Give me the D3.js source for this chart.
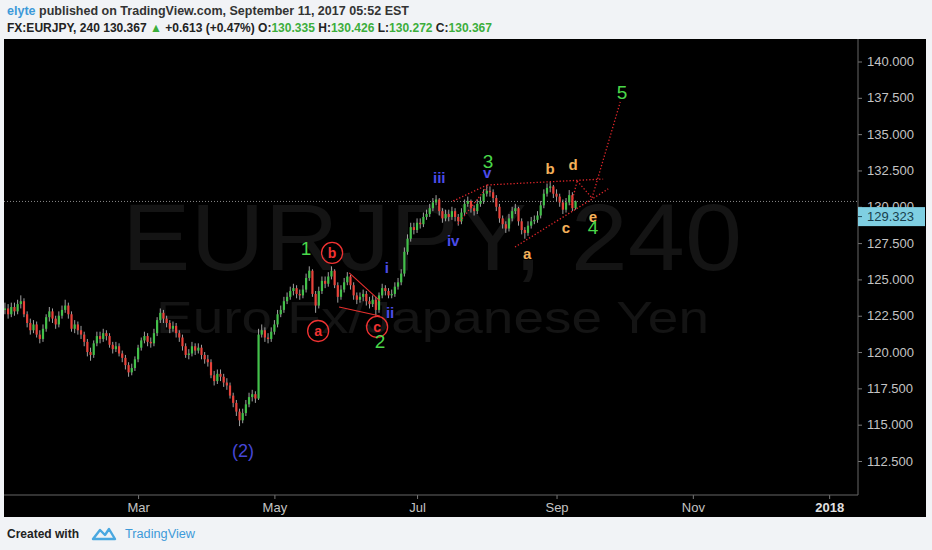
<!DOCTYPE html>
<html>
<head>
<meta charset="utf-8">
<script src="https://cdn.jsdelivr.net/npm/d3@7"></script>
<style>
  body { margin: 0; background: #f1f3f6; }
  svg { display: block; }
</style>
</head>
<body>
<div id="chart"></div>
<script>
// Daily EURJPY bars (trading days from Jan 2 2017), open = previous close
var firstOpen = 122.9;
var closes = [
  123.0,122.6,123.1,122.8,123.3,123.5,122.6,122.0,121.5,121.9,
  121.2,120.9,121.6,122.4,122.8,122.3,121.9,122.5,122.9,123.2,
  122.6,121.6,121.9,121.5,121.2,120.7,120.0,119.8,120.6,121.1,
  120.9,121.3,121.1,120.5,120.2,120.4,119.9,119.6,119.1,118.6,
  118.9,119.5,120.3,120.8,121.1,120.7,120.6,121.3,122.2,122.7,
  122.3,122.0,121.6,121.8,121.3,121.0,120.4,119.8,119.9,120.4,
  120.1,120.3,119.8,119.5,119.3,118.4,118.0,118.5,118.3,117.9,
  117.7,117.0,116.5,115.9,115.3,115.8,116.4,116.9,117.1,116.8,
  121.2,121.5,121.0,120.9,121.4,121.9,122.6,122.9,123.5,123.8,
  124.2,124.4,124.0,123.9,124.3,125.1,125.6,124.0,123.2,124.2,
  124.9,124.7,125.2,125.6,124.6,123.8,124.3,124.8,125.2,124.6,
  123.9,123.6,123.8,124.0,123.5,123.3,123.6,122.9,123.9,124.4,
  124.2,123.9,124.0,124.5,124.8,125.4,126.9,127.8,128.6,128.4,
  128.9,128.8,129.3,129.5,129.9,130.3,130.5,129.7,129.2,129.5,
  129.3,129.7,129.3,129.0,129.6,130.2,130.4,129.9,129.7,130.2,
  130.4,130.9,131.1,131.0,130.6,130.0,129.2,128.8,128.5,129.2,
  129.7,129.9,129.0,128.4,128.2,128.7,129.0,129.1,129.4,130.1,
  130.9,131.3,131.4,130.9,130.7,130.3,129.8,130.3,130.8,129.9,
  130.367
];
var highs = [
  123.4,123.3,123.4,123.4,123.6,123.9,123.7,122.8,122.3,122.2,
  122.1,121.5,121.9,122.6,123.1,123.0,122.5,122.8,123.2,123.6,
  123.4,122.8,122.2,122.1,121.8,121.4,120.9,120.3,120.8,121.4,
  121.4,121.6,121.5,121.3,120.7,120.7,120.6,120.1,119.8,119.3,
  119.2,119.7,120.5,121.0,121.4,121.3,121.0,121.6,122.4,123.0,
  122.9,122.5,122.2,122.1,122.0,121.5,121.2,120.6,120.2,120.7,
  120.6,120.6,120.5,120.0,119.8,119.5,118.7,118.8,118.8,118.5,
  118.2,117.9,117.2,116.7,116.1,116.1,116.7,117.2,117.4,117.3,
  121.6,121.9,121.7,121.3,121.7,122.2,122.9,123.2,123.8,124.1,
  124.5,124.7,124.6,124.3,124.6,125.4,125.9,125.7,124.2,124.5,
  125.2,125.2,125.5,125.9,125.7,124.8,124.6,125.1,125.5,125.3,
  124.8,124.1,124.1,124.3,124.2,123.8,123.9,123.8,124.1,124.7,
  124.6,124.4,124.3,124.8,125.1,125.7,127.2,128.1,128.9,128.9,
  129.2,129.2,129.6,129.8,130.2,130.6,130.8,130.6,129.9,129.8,
  129.8,130.0,129.9,129.5,129.9,130.5,130.7,130.5,130.1,130.5,
  130.7,131.2,131.5,131.4,131.2,130.8,130.2,129.4,129.0,129.5,
  130.0,130.2,130.0,129.2,128.6,129.0,129.3,129.4,129.7,130.4,
  131.2,131.6,131.7,131.5,131.2,130.9,130.5,130.6,131.15,131.0,
  130.426
];
var lows = [
  122.6,122.3,122.4,122.5,122.6,123.0,122.4,121.7,121.2,121.3,
  121.0,120.6,120.7,121.4,122.1,122.0,121.6,121.7,122.3,122.7,
  122.3,121.4,121.3,121.2,120.9,120.4,119.7,119.4,119.6,120.4,
  120.6,120.7,120.8,120.3,119.9,120.0,119.7,119.3,118.8,118.3,
  118.4,118.7,119.3,120.1,120.6,120.4,120.3,120.4,121.1,122.0,
  122.0,121.7,121.3,121.4,121.0,120.7,120.1,119.6,119.5,119.7,
  119.8,119.9,119.5,119.2,119.0,118.2,117.7,117.8,118.0,117.6,
  117.4,116.8,116.2,115.6,114.9,115.1,115.6,116.2,116.6,116.5,
  116.7,121.0,120.7,120.6,120.7,121.2,121.7,122.4,122.7,123.3,
  123.6,123.9,123.7,123.6,123.7,124.1,124.9,123.8,122.7,123.0,
  124.0,124.4,124.5,125.0,124.4,123.4,123.6,124.1,124.6,124.3,
  123.6,123.3,123.4,123.5,123.2,123.0,123.1,122.5,122.7,123.7,
  123.9,123.7,123.7,123.8,124.3,124.6,125.2,126.7,127.6,128.1,
  128.2,128.5,128.6,129.1,129.3,129.7,130.1,129.4,128.9,129.0,
  129.0,129.1,129.0,128.7,128.8,129.4,130.0,129.6,129.4,129.5,
  130.0,130.2,130.7,130.7,130.3,129.7,128.9,128.5,128.2,128.3,
  129.0,129.5,128.7,128.1,127.8,128.0,128.5,128.8,128.9,129.2,
  129.9,130.7,131.0,130.6,130.4,130.0,129.5,129.6,130.1,129.7,
  129.8
];

var priceTicks = [112.5, 115, 117.5, 120, 122.5, 125, 127.5, 130, 132.5, 135, 137.5, 140];
var monthStarts = ["2017-03-01", "2017-05-01", "2017-07-01", "2017-09-01", "2017-11-01", "2018-01-01"];
var monthLabels = ["Mar", "May", "Jul", "Sep", "Nov", "2018"];
var lastPrice = 130.367;
var markerPrice = 129.323;

// wave labels: bar index, price
var waveLabels = [
  { t: "(2)", i: 75.1, p: 113.19, k: "blue2" },
  { t: "1", i: 95.0, p: 127.16, k: "num" },
  { t: "b", i: 103.2, p: 126.82, k: "circ" },
  { t: "a", i: 98.8, p: 121.45, k: "circ" },
  { t: "c", i: 117.4, p: 121.73, k: "circ" },
  { t: "2", i: 118.3, p: 120.77, k: "num" },
  { t: "i", i: 120.5, p: 125.79, k: "roman" },
  { t: "ii", i: 121.5, p: 122.70, k: "roman" },
  { t: "iii", i: 137.0, p: 131.98, k: "roman" },
  { t: "iv", i: 141.4, p: 127.65, k: "roman" },
  { t: "3", i: 152.4, p: 133.10, k: "num" },
  { t: "v", i: 152.1, p: 132.35, k: "roman" },
  { t: "a", i: 164.7, p: 126.75, k: "orange" },
  { t: "b", i: 172.0, p: 132.65, k: "orange" },
  { t: "c", i: 177.0, p: 128.54, k: "orange" },
  { t: "d", i: 179.2, p: 132.88, k: "orange" },
  { t: "e", i: 185.5, p: 129.30, k: "orange" },
  { t: "4", i: 185.5, p: 128.60, k: "num" },
  { t: "5", i: 194.7, p: 137.90, k: "num" }
];
var solidLines = [
  [108.6, 125.45, 118.3, 123.52],
  [105.4, 123.10, 118.3, 122.48]
];
var dottedLines = [
  [141.4, 130.40, 152.1, 131.50],
  [142.9, 128.82, 152.1, 131.36],
  [152.1, 131.50, 188.7, 131.91],
  [160.9, 127.23, 190.3, 131.23],
  [178.6, 130.12, 180.5, 131.78],
  [180.5, 131.78, 185.2, 130.61],
  [185.2, 130.61, 194.1, 137.21]
];

var svgWidth = 932;
var svgHeight = 550;
var plot = { left: 4, right: 858, top: 39, bottom: 495 };
var frameRight = 926, frameBottom = 517;

var svg = d3.select("#chart")
  .append("svg")
  .attr("width", svgWidth)
  .attr("height", svgHeight);

// trading days (weekends skipped), index 0 = Jan 2 2017
var days = d3.timeDay.range(new Date(2017, 0, 2), new Date(2018, 1, 1))
  .filter(d => d.getDay() % 6 !== 0);
var monthIdx = monthStarts.map(s => {
  var m = d3.timeParse("%Y-%m-%d")(s);
  return days.findIndex(d => d >= m);
});

var x = d3.scaleLinear().domain([-0.3, 269.1]).range([plot.left, plot.right]);
var y = d3.scaleLinear().domain([112.5, 140]).range([461, 61.5]);

// header
var head = svg.append("g").attr("font-family", "Liberation Sans, Arial, sans-serif")
  .attr("font-weight", "bold").attr("font-size", 12.5);
var h1 = head.append("text").attr("x", 7).attr("y", 15)
  .attr("textLength", 402).attr("lengthAdjust", "spacingAndGlyphs").attr("fill", "#333");
h1.append("tspan").attr("fill", "#3d9ad9").text("elyte");
h1.append("tspan").text(" published on TradingView.com, September 11, 2017 05:52 EST");

var green = "#3cae3c";
var h2 = head.append("text").attr("x", 7).attr("y", 32)
  .attr("textLength", 485).attr("lengthAdjust", "spacingAndGlyphs").attr("fill", "#222");
[["FX:EURJPY, 240  130.367 ", null], ["\u25B2", green], [" +0.613 (+0.47%)  O:", null],
 ["130.335", green], ["  H:", null], ["130.426", green], ["  L:", null],
 ["130.272", green], ["  C:", null], ["130.367", green]]
  .forEach(function(p) {
    var ts = h2.append("tspan").text(p[0]);
    if (p[1]) ts.attr("fill", p[1]);
  });

// black chart frame
svg.append("rect")
  .attr("x", plot.left).attr("y", plot.top)
  .attr("width", frameRight - plot.left).attr("height", frameBottom - plot.top)
  .attr("fill", "#000");

// watermark
svg.append("text")
  .attr("x", 122).attr("y", 270)
  .attr("textLength", 620).attr("lengthAdjust", "spacingAndGlyphs")
  .attr("font-family", "Liberation Sans, Arial, sans-serif").attr("font-size", 94)
  .attr("fill", "#141414")
  .text("EURJPY, 240");
svg.append("text")
  .attr("x", 156).attr("y", 333)
  .attr("textLength", 553).attr("lengthAdjust", "spacingAndGlyphs")
  .attr("font-family", "Liberation Sans, Arial, sans-serif").attr("font-size", 45)
  .attr("fill", "#141414")
  .text("Euro Fx/Japanese Yen");

svg.append("clipPath").attr("id", "plotclip")
  .append("rect").attr("x", plot.left).attr("y", plot.top)
  .attr("width", plot.right - plot.left).attr("height", plot.bottom - plot.top);

var chartGroup = svg.append("g").attr("clip-path", "url(#plotclip)");

// current price line
chartGroup.append("line")
  .attr("x1", plot.left).attr("x2", plot.right)
  .attr("y1", y(lastPrice)).attr("y2", y(lastPrice))
  .attr("stroke", "#8a8a8a").attr("stroke-width", 1)
  .attr("stroke-dasharray", "1,2");

// candles
var bars = closes.map(function(c, i) {
  return { i: i, o: i === 0 ? firstOpen : closes[i - 1], c: c, h: highs[i], l: lows[i] };
});

chartGroup.selectAll(".wick")
  .data(bars)
  .enter()
  .append("line")
  .attr("class", "wick")
  .attr("x1", d => x(d.i)).attr("x2", d => x(d.i))
  .attr("y1", d => y(d.h)).attr("y2", d => y(d.l))
  .attr("stroke", "#d6d6d6").attr("stroke-opacity", 0.75)
  .attr("stroke-width", 1);

chartGroup.selectAll(".body")
  .data(bars)
  .enter()
  .append("rect")
  .attr("class", "body")
  .attr("x", d => x(d.i) - 1.1)
  .attr("width", 2.2)
  .attr("y", d => y(Math.max(d.o, d.c)))
  .attr("height", d => Math.max(1, Math.abs(y(d.o) - y(d.c))))
  .attr("fill", d => d.c >= d.o ? "#43c04a" : "#e8423a");

// wave drawings
chartGroup.selectAll(".solid")
  .data(solidLines)
  .enter()
  .append("line")
  .attr("x1", d => x(d[0])).attr("y1", d => y(d[1]))
  .attr("x2", d => x(d[2])).attr("y2", d => y(d[3]))
  .attr("stroke", "#e8302e").attr("stroke-width", 1.1);

chartGroup.selectAll(".dotted")
  .data(dottedLines)
  .enter()
  .append("line")
  .attr("x1", d => x(d[0])).attr("y1", d => y(d[1]))
  .attr("x2", d => x(d[2])).attr("y2", d => y(d[3]))
  .attr("stroke", "#e0262a").attr("stroke-width", 1.3)
  .attr("stroke-dasharray", "1.3,2");

var styles = {
  num: { fill: "#4ad84a", size: 19, weight: "normal" },
  roman: { fill: "#4c4cea", size: 15, weight: "bold" },
  blue2: { fill: "#4646d6", size: 18, weight: "normal" },
  orange: { fill: "#f4b05a", size: 15, weight: "bold" },
  circ: { fill: "#f03232", size: 14, weight: "bold" }
};

chartGroup.selectAll(".circ")
  .data(waveLabels.filter(d => d.k === "circ"))
  .enter()
  .append("circle")
  .attr("cx", d => x(d.i)).attr("cy", d => y(d.p))
  .attr("r", 10.5)
  .attr("fill", "none").attr("stroke", "#f03232").attr("stroke-width", 1.3);

chartGroup.selectAll(".wave")
  .data(waveLabels)
  .enter()
  .append("text")
  .attr("x", d => x(d.i)).attr("y", d => y(d.p))
  .attr("text-anchor", "middle")
  .attr("dy", "0.35em")
  .attr("font-family", "Liberation Sans, Arial, sans-serif")
  .attr("font-size", d => styles[d.k].size)
  .attr("font-weight", d => styles[d.k].weight)
  .attr("fill", d => styles[d.k].fill)
  .text(d => d.t);

// axes
var rightAxis = d3.axisRight(y).tickValues(priceTicks)
  .tickFormat(d3.format(".3f")).tickSize(4).tickPadding(5);
var gy = svg.append("g").attr("transform", `translate(${plot.right}, 0)`).call(rightAxis);

var bottomAxis = d3.axisBottom(x).tickValues(monthIdx)
  .tickFormat((d, i) => monthLabels[i]).tickSize(4).tickPadding(4);
var gx = svg.append("g").attr("transform", `translate(0, ${plot.bottom})`).call(bottomAxis);

[gx, gy].forEach(function(g) {
  g.select(".domain").remove();
  g.selectAll("line").attr("stroke", "#777");
  g.selectAll("text").attr("fill", "#c4c4c4")
    .attr("font-family", "Liberation Sans, Arial, sans-serif").attr("font-size", 13);
});
gx.selectAll("text").filter((d, i) => monthLabels[i] === "2018")
  .attr("font-weight", "bold").attr("fill", "#e0e0e0");

// frame separators
svg.append("line").attr("x1", plot.right).attr("x2", plot.right)
  .attr("y1", plot.top).attr("y2", plot.bottom).attr("stroke", "#666");
svg.append("line").attr("x1", plot.left).attr("x2", plot.right)
  .attr("y1", plot.bottom).attr("y2", plot.bottom).attr("stroke", "#666");

// price marker box
var marker = svg.append("g").attr("transform", `translate(${plot.right}, ${y(markerPrice)})`);
marker.append("rect").attr("x", 0).attr("y", -9.5).attr("width", frameRight - plot.right - 1)
  .attr("height", 19).attr("fill", "#7fcfe2");
marker.append("line").attr("x1", 0).attr("x2", 4).attr("stroke", "#1c4656");
marker.append("text").attr("x", 9).attr("dy", "0.35em")
  .attr("font-family", "Liberation Sans, Arial, sans-serif").attr("font-size", 13)
  .attr("fill", "#173e4c").text(markerPrice.toFixed(3));

// footer
var foot = svg.append("g").attr("font-family", "Liberation Sans, Arial, sans-serif").attr("font-size", 12.5);
foot.append("text").attr("x", 7).attr("y", 538)
  .attr("textLength", 72).attr("lengthAdjust", "spacingAndGlyphs")
  .attr("font-weight", "bold").attr("fill", "#222").text("Created with");
foot.append("path")
  .attr("d", "M93,539 L100,530 L105,535 L109,529 L115,539 Z")
  .attr("fill", "none").attr("stroke", "#4aa8e0").attr("stroke-width", 2.4)
  .attr("stroke-linejoin", "round");
foot.append("text").attr("x", 125).attr("y", 538)
  .attr("textLength", 70).attr("lengthAdjust", "spacingAndGlyphs")
  .attr("fill", "#3d9ad9").text("TradingView");
</script>
</body>
</html>
